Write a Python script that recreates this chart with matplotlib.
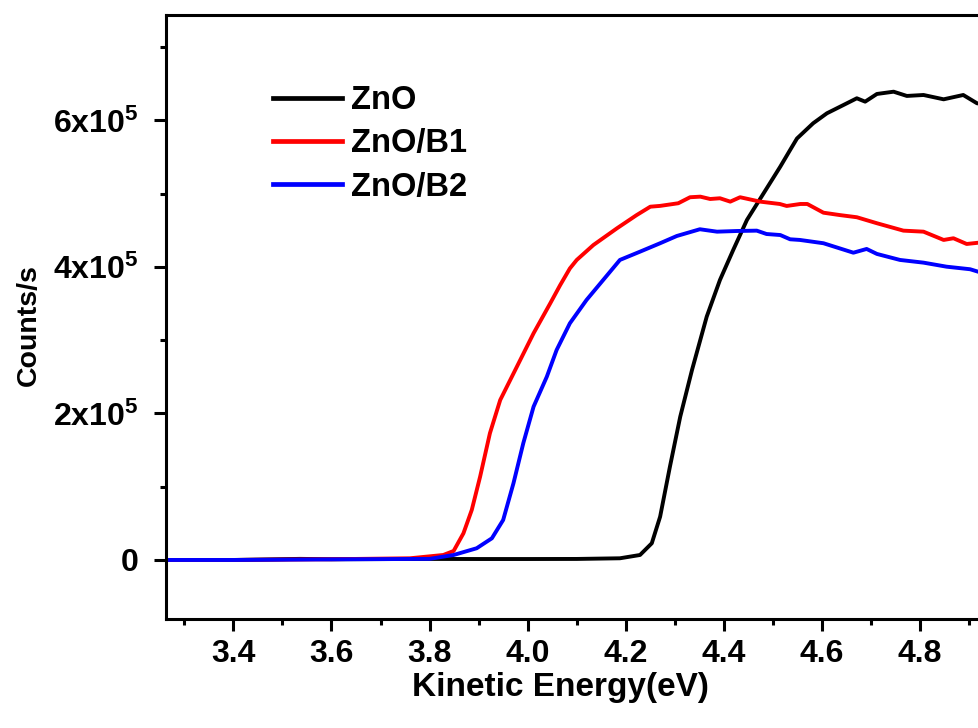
import matplotlib
matplotlib.use("Agg")
import matplotlib.pyplot as plt
from matplotlib.ticker import MultipleLocator, FixedLocator, FixedFormatter

# ---- data ----
e_zno = [3.261, 3.40, 3.536, 3.60, 3.70, 3.80, 3.90, 4.00, 4.10, 4.188, 4.229, 4.253, 4.270,
         4.290, 4.311, 4.335, 4.365, 4.392, 4.419, 4.447, 4.481, 4.515, 4.535, 4.549,
         4.582, 4.610, 4.644, 4.671, 4.688, 4.712, 4.746, 4.773, 4.807, 4.848, 4.888,
         4.916, 4.95]
c_zno = [0, 0, 1500, 1000, 1200, 1400, 1300, 1300, 1400, 2300, 6800, 22800, 59100,
         127400, 195600, 259400, 332200, 382300, 423200, 464200, 500600, 537000, 559700, 575400,
         596200, 609800, 621200, 630300, 625700, 636200, 639300, 633500, 634800, 628900, 634800,
         623500, 620000]

e_b1 = [3.261, 3.40, 3.60, 3.760, 3.828, 3.849, 3.869, 3.886, 3.903, 3.923, 3.944, 3.978,
        4.012, 4.046, 4.066, 4.086, 4.100, 4.134, 4.182, 4.222, 4.250, 4.270, 4.307, 4.331,
        4.352, 4.372, 4.392, 4.413, 4.433, 4.474, 4.514, 4.528, 4.556, 4.570, 4.603, 4.637,
        4.671, 4.712, 4.766, 4.807, 4.848, 4.868, 4.895, 4.920, 4.95]
c_b1 = [0, 0, 1000, 2300, 6800, 12300, 36400, 68300, 113700, 173000, 218400, 263900,
        309500, 350400, 375000, 398000, 409600, 430000, 452800, 470800, 482300, 483400, 487000, 495200,
        496000, 492800, 493800, 489200, 495200, 489200, 486000, 483300, 486000, 486000, 474100, 470800,
        467900, 459700, 449600, 448200, 436900, 439200, 431400, 433200, 430000]

e_b2 = [3.261, 3.40, 3.60, 3.80, 3.849, 3.896, 3.927, 3.950, 3.971, 3.991, 4.012, 4.039,
        4.059, 4.086, 4.120, 4.154, 4.188, 4.229, 4.270, 4.304, 4.351, 4.386, 4.426, 4.467,
        4.487, 4.515, 4.535, 4.555, 4.603, 4.664, 4.691, 4.712, 4.759, 4.807, 4.854, 4.902,
        4.920, 4.95]
c_b2 = [0, 0, 800, 1500, 6800, 16000, 29600, 54600, 104700, 159300, 209300, 250200,
        286700, 323100, 355000, 382300, 409600, 420900, 432400, 442300, 451500, 448200, 449100, 449600,
        445000, 443600, 437800, 436900, 432400, 419500, 424600, 417800, 409600, 405900, 400400, 396900,
        393200, 390000]

series_labels = ["ZnO", "ZnO/B1", "ZnO/B2"]
series_colors = ["#000000", "#ff0000", "#0000ff"]

x_ticks = [3.4, 3.6, 3.8, 4.0, 4.2, 4.4, 4.6, 4.8]
x_ticklabels = ["3.4", "3.6", "3.8", "4.0", "4.2", "4.4", "4.6", "4.8"]
y_ticks = [0, 2e5, 4e5, 6e5]
y_ticklabels = ["0", r"2x10$^{5}$", r"4x10$^{5}$", r"6x10$^{5}$"]

# ---- style ----
plt.rcParams['font.family'] = ['Liberation Sans', 'DejaVu Sans']
plt.rcParams['font.weight'] = 'bold'
plt.rcParams['mathtext.default'] = 'regular'

W, H = 979, 728
fig = plt.figure(figsize=(W / 100, H / 100), dpi=100)
left_px, bottom_px, top_px = 165.7, 619.3, 15.0
x0, x1 = 3.262, 5.0
px_per_ev = 490.5
right_px = left_px + (x1 - x0) * px_per_ev
ax_w = right_px - left_px
ax_h = bottom_px - top_px
ax = fig.add_axes([left_px / W, (H - bottom_px) / H, ax_w / W, ax_h / H])

for e, c, lab, col in zip([e_zno, e_b1, e_b2], [c_zno, c_b1, c_b2], series_labels, series_colors):
    ax.plot(e, c, color=col, lw=2.8, label=lab, solid_joinstyle='round')

ax.set_xlim(x0, x1)
ax.set_ylim(-81000, 744000)

ax.xaxis.set_major_locator(FixedLocator(x_ticks))
ax.xaxis.set_major_formatter(FixedFormatter(x_ticklabels))
ax.xaxis.set_minor_locator(MultipleLocator(0.1))
ax.yaxis.set_major_locator(FixedLocator(y_ticks))
ax.yaxis.set_major_formatter(FixedFormatter(y_ticklabels))
ax.yaxis.set_minor_locator(MultipleLocator(1e5))

for s in ax.spines.values():
    s.set_linewidth(2.2)
ax.tick_params(which='both', direction='out', top=False, right=False, width=2.2)
ax.tick_params(which='major', length=8.5)
ax.tick_params(which='minor', length=4.5)
ax.tick_params(axis='x', which='major', labelsize=23, pad=6)
ax.tick_params(axis='y', which='major', labelsize=23, pad=11)
for t in ax.get_xticklabels() + ax.get_yticklabels():
    t.set_fontweight('bold')

ax.set_xlabel("Kinetic Energy(eV)", fontsize=24, fontweight='bold')
ax.xaxis.set_label_coords((560 - left_px) / ax_w, (bottom_px - 672) / ax_h)
ax.xaxis.label.set_va('top')
ax.set_ylabel("Counts/s", fontsize=20.5, fontweight='bold')
ax.yaxis.set_label_coords((42 - left_px) / ax_w, (bottom_px - 325) / ax_h)

leg = ax.legend(loc='upper left', bbox_to_anchor=((273 - left_px) / ax_w,
                                                    (bottom_px - 85) / ax_h),
                frameon=False, fontsize=23.5, handlelength=2.1, handletextpad=0.3,
                labelspacing=0.38, borderpad=0, borderaxespad=0)
for t in leg.get_texts():
    t.set_fontweight('bold')
for l in leg.get_lines():
    l.set_linewidth(3.4)

fig.savefig("out.png", dpi=100)
